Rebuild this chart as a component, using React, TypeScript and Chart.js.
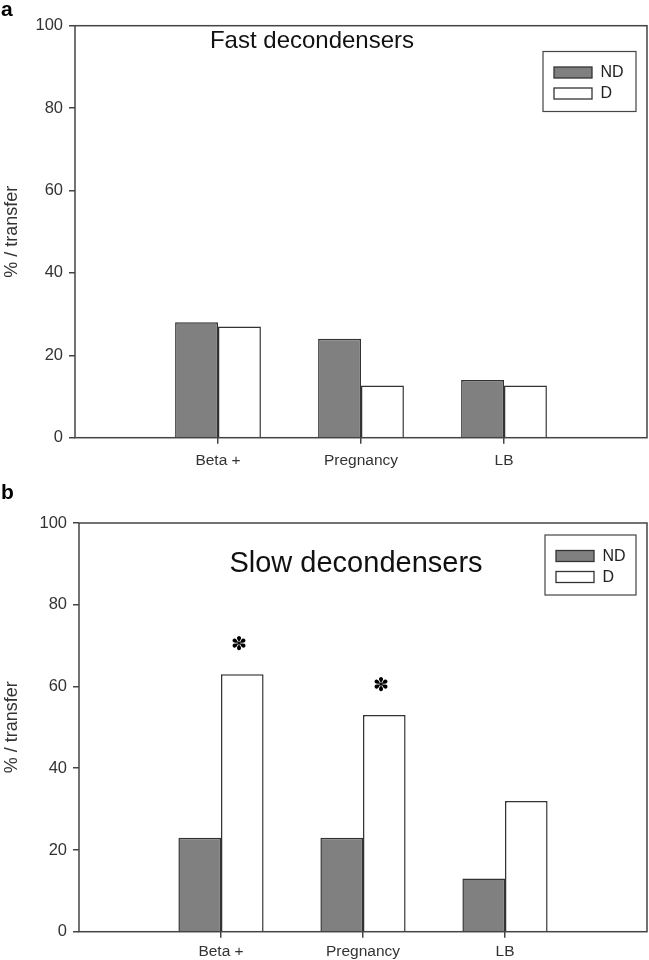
import React, { useEffect, useRef } from 'react';
import { Chart, registerables } from 'chart.js';

Chart.register(...registerables);

// ---- data ----
const categories = ['', 'Beta +', 'Pregnancy', 'LB', ''];
const seriesNames = ['ND', 'D'];
const fastND: (number | null)[] = [null, 28, 24, 14, null];
const fastD: (number | null)[] = [null, 27, 12.7, 12.7, null];
const slowND: (number | null)[] = [null, 23, 23, 13, null];
const slowD: (number | null)[] = [null, 63, 53, 32, null];
const fastSignificant = [false, false, false, false, false];
const slowSignificant = [false, true, true, false, false];
const yMin = 0;
const yMax = 100;
const yStep = 20;
const yTitle = '% / transfer';

const FONT = '"Liberation Sans", Arial, sans-serif';
const LINE = '#444444';
const TEXT = '#333333';

type Geom = {
  padTop: number;
  padRight: number;
  yAxisWidth: number;
  xAxisHeight: number;
  xTickPad: number;
  titleX: number;
  titleY: number;
  titleSize: number;
  legendLeft: number;
  legendTop: number;
  legendW: number;
  legendH: number;
  letterY: number;
};

type PanelProps = {
  letter: string;
  title: string;
  nd: (number | null)[];
  d: (number | null)[];
  sig: boolean[];
  geom: Geom;
};

const decorPlugin = {
  id: 'panelDecor',
  afterDatasetsDraw(chart: any, _args: any, opts: any) {
    const ctx = chart.ctx;
    const { left, top, right, bottom } = chart.chartArea;
    const g: Geom = opts.geom;
    ctx.save();
    // frame
    ctx.strokeStyle = LINE;
    ctx.lineWidth = 1.5;
    ctx.strokeRect(left, top, right - left, bottom - top);

    // title
    ctx.fillStyle = '#111';
    ctx.font = `${g.titleSize}px ${FONT}`;
    ctx.textAlign = 'center';
    ctx.textBaseline = 'middle';
    ctx.fillText(opts.title, g.titleX, g.titleY);

    // panel letter
    ctx.font = `bold 21px ${FONT}`;
    ctx.textAlign = 'left';
    ctx.fillStyle = '#000';
    ctx.fillText(opts.letter, 1, g.letterY);

    // legend
    const lx = g.legendLeft;
    const ly = g.legendTop;
    ctx.strokeStyle = LINE;
    ctx.lineWidth = 1.2;
    ctx.fillStyle = '#fff';
    ctx.fillRect(lx, ly, g.legendW, g.legendH);
    ctx.strokeRect(lx, ly, g.legendW, g.legendH);
    const rowTops = [15.5, 36.5];
    chart.data.datasets.forEach((ds: any, i: number) => {
      const sx = lx + 11;
      const sy = ly + rowTops[i];
      ctx.fillStyle = ds.backgroundColor;
      ctx.fillRect(sx, sy, 38, 11);
      ctx.strokeStyle = ds.borderColor;
      ctx.lineWidth = 1.3;
      ctx.strokeRect(sx, sy, 38, 11);
      ctx.fillStyle = '#222';
      ctx.font = `16px ${FONT}`;
      ctx.textAlign = 'left';
      ctx.textBaseline = 'middle';
      ctx.fillText(ds.label, sx + 46.5, sy + 6);
    });

    // significance markers over D bars
    const meta = chart.getDatasetMeta(1);
    const sig: boolean[] = opts.sig;
    ctx.fillStyle = '#000';
    ctx.font = `19px "DejaVu Sans", sans-serif`;
    ctx.textAlign = 'center';
    ctx.textBaseline = 'middle';
    sig.forEach((s, i) => {
      if (!s) return;
      const el = meta.data[i];
      if (!el) return;
      ctx.fillText('\u273D', el.x - 3, el.y - 29);
    });
    ctx.restore();
  },
};

function Panel({ letter, title, nd, d, sig, geom }: PanelProps) {
  const ref = useRef<HTMLCanvasElement | null>(null);
  useEffect(() => {
    if (!ref.current) return;
    const chart = new Chart(ref.current, {
      type: 'bar',
      data: {
        labels: categories,
        datasets: [
          {
            label: seriesNames[0],
            data: nd,
            backgroundColor: '#808080',
            borderColor: '#333333',
            borderWidth: 1.5,
            borderSkipped: 'bottom',
          },
          {
            label: seriesNames[1],
            data: d,
            backgroundColor: '#ffffff',
            borderColor: '#333333',
            borderWidth: 1.5,
            borderSkipped: 'bottom',
          },
        ],
      },
      options: {
        responsive: false,
        animation: false,
        devicePixelRatio: 1,
        layout: { padding: { top: geom.padTop, right: geom.padRight, left: 0, bottom: 0 } },
        datasets: {
          bar: { categoryPercentage: 0.6, barPercentage: 1.0 },
        },
        plugins: {
          legend: { display: false },
          tooltip: { enabled: false },
          panelDecor: { title, letter, sig, geom },
        } as any,
        scales: {
          x: {
            type: 'category',
            offset: false,
            grid: {
              offset: false,
              drawOnChartArea: false,
              drawTicks: true,
              tickLength: 6,
              lineWidth: 1.5,
              color: (c: any) =>
                c.index === 0 || c.index === categories.length - 1 ? 'rgba(0,0,0,0)' : LINE,
            },
            border: { display: false },
            ticks: {
              autoSkip: false,
              maxRotation: 0,
              padding: geom.xTickPad,
              color: TEXT,
              font: { family: FONT, size: 15.5 },
            },
            afterFit: (s: any) => {
              s.height = geom.xAxisHeight;
              s.paddingLeft = 0;
              s.paddingRight = 0;
            },
          },
          y: {
            min: yMin,
            max: yMax,
            grid: {
              drawOnChartArea: false,
              drawTicks: true,
              tickLength: 6,
              lineWidth: 1.5,
              color: LINE,
            },
            border: { display: false },
            ticks: {
              stepSize: yStep,
              padding: 6,
              color: TEXT,
              font: { family: FONT, size: 16.5 },
            },
            title: {
              display: true,
              text: yTitle,
              color: TEXT,
              font: { family: FONT, size: 18 },
              padding: { top: 1, bottom: 0 },
            },
            afterFit: (s: any) => {
              s.width = geom.yAxisWidth;
              s.paddingTop = 0;
              s.paddingBottom = 0;
            },
          },
        },
      },
      plugins: [decorPlugin],
    });
    return () => chart.destroy();
  }, []);
  return (
    <div style={{ width: 649, height: 480 }}>
      <canvas ref={ref} width={649} height={480} style={{ display: 'block' }} />
    </div>
  );
}

const topGeom: Geom = {
  padTop: 25.7,
  padRight: 2,
  yAxisWidth: 75,
  xAxisHeight: 42.3,
  xTickPad: 7.5,
  titleX: 312,
  titleY: 41,
  titleSize: 24,
  legendLeft: 543,
  legendTop: 51.5,
  legendW: 93,
  legendH: 60,
  letterY: 10,
};

const bottomGeom: Geom = {
  padTop: 43,
  padRight: 2,
  yAxisWidth: 79,
  xAxisHeight: 28.3,
  xTickPad: 4.5,
  titleX: 356,
  titleY: 84,
  titleSize: 29,
  legendLeft: 545,
  legendTop: 55,
  legendW: 91,
  legendH: 60,
  letterY: 13,
};

export default function App() {
  return (
    <div style={{ position: 'absolute', left: 0, top: 0, width: 649, height: 960, background: '#fff' }}>
      <Panel letter="a" title="Fast decondensers" nd={fastND} d={fastD} sig={fastSignificant} geom={topGeom} />
      <Panel letter="b" title="Slow decondensers" nd={slowND} d={slowD} sig={slowSignificant} geom={bottomGeom} />
    </div>
  );
}
